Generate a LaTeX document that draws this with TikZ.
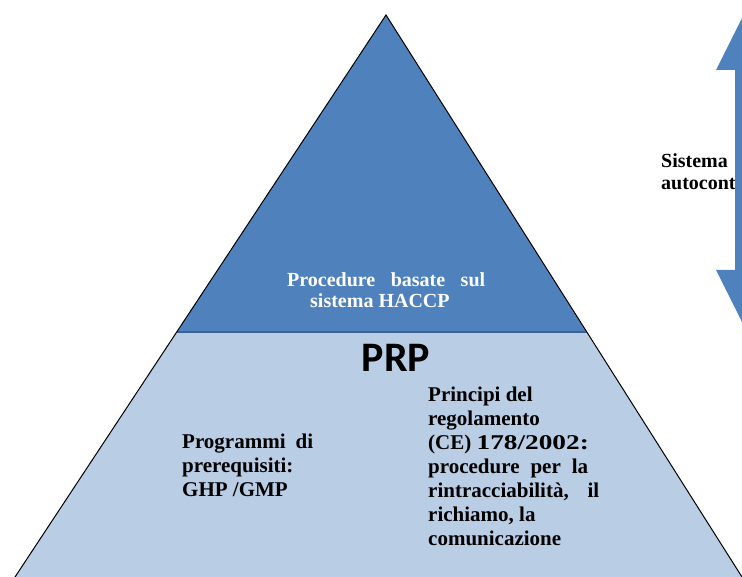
\documentclass[tikz,border=0pt]{standalone}
\usepackage{fontspec}
\setmainfont{Liberation Serif}
\newfontfamily\prpfont{Carlito}
\usetikzlibrary{calc}
\definecolor{darkblue}{HTML}{4F81BD}
\definecolor{lightblue}{HTML}{B9CDE5}
\definecolor{divline}{HTML}{3A6394}
\begin{document}
\begin{tikzpicture}[x=1pt,y=-1pt,
  txt/.style={inner sep=0pt, anchor=base west, text=black, font=\bfseries\fontsize{21}{24}\selectfont},
  edge/.style={draw=black, line width=1pt},
  divider/.style={draw=divline, line width=1.5pt}]
\useasboundingbox (0,0) rectangle (742,577);
\clip (0,0) rectangle (742,577);
% pyramid
\coordinate (apex) at (386,15);
\coordinate (bl) at (15,577);
\coordinate (br) at (742,577);
\coordinate (dl) at ($(apex)!0.564!(bl)$);
\coordinate (dr) at ($(apex)!0.564!(br)$);
\fill[lightblue] (dl) -- (dr) -- (br) -- (bl) -- cycle;
\fill[darkblue] (apex) -- (dr) -- (dl) -- cycle;
\draw[divider] (dl) -- (dr);
\draw[edge] (bl) -- (apex) -- (br);
% texts
\node[txt, text=white, font=\bfseries\fontsize{20}{21}\selectfont] (haccp) at (287,287)
  {\begin{tabular}[t]{@{}l@{}}\makebox[198pt][s]{Procedure basate sul}\\\hspace{23pt}sistema HACCP\end{tabular}};
\node[inner sep=0pt, font=\prpfont\bfseries\fontsize{42}{42}\selectfont] (prp) at (396,357.5) {PRP};
\node[txt] (prog) at (182,448)
  {\begin{tabular}[t]{@{}l@{}}\makebox[131pt][s]{Programmi di}\\prerequisiti:\\GHP /GMP\end{tabular}};
\node[txt] (reg) at (428,402)
  {\begin{tabular}[t]{@{}l@{}}Principi del\\regolamento\\(CE) \scalebox{1.3}[1]{178/2002:}\\\makebox[160pt][s]{procedure per la}\\\makebox[171pt][s]{rintracciabilità, il}\\richiamo, la\\comunicazione\end{tabular}};
\node[txt, font=\bfseries\fontsize{20}{22}\selectfont] (sis) at (661,168)
  {\begin{tabular}[t]{@{}l@{}}Sistema\\autocontrollo\end{tabular}};
% double arrow
\fill[darkblue] (735,70) -- (716,70) -- (760,-18) -- (804,70) -- (785,70)
  -- (785,270) -- (804,270) -- (760,358) -- (716,270) -- (735,270) -- cycle;
\end{tikzpicture}
\end{document}
